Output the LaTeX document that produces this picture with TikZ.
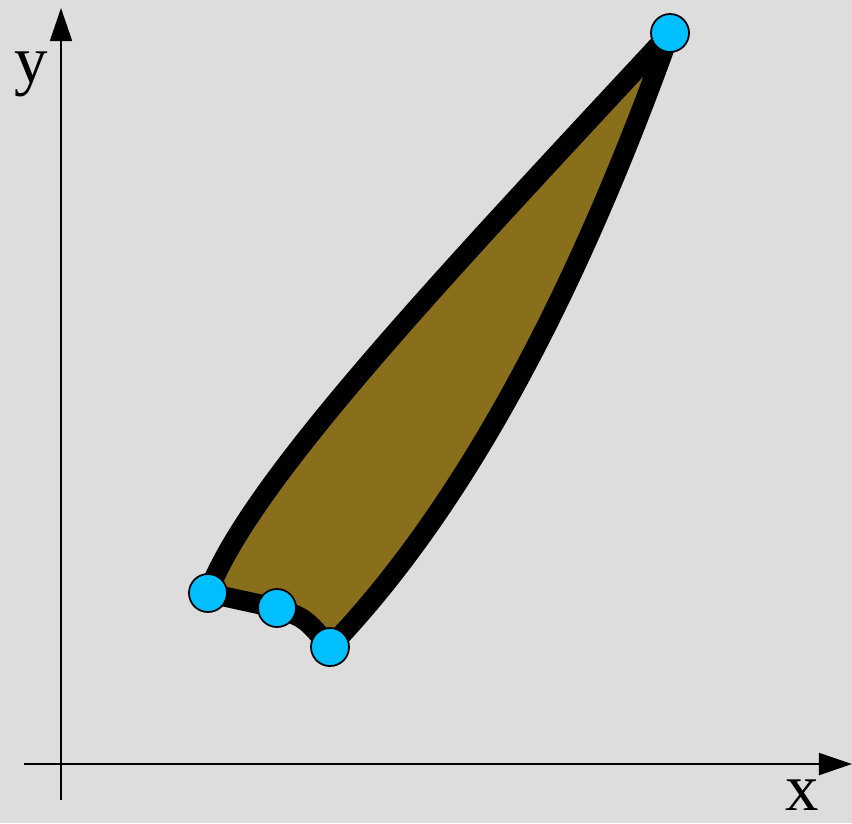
\documentclass[tikz,border=0pt]{standalone}
\usepackage{fontspec}
\setmainfont{Liberation Serif}
\usepackage{xcolor}
\usetikzlibrary{arrows.meta}

\definecolor{bgrey}{HTML}{DDDDDD}
\definecolor{wing}{HTML}{896F1C}
\definecolor{handle}{HTML}{00BFFF}

\begin{document}
\begin{tikzpicture}[x=0.01cm, y=-0.01cm, >={Triangle[length=0.33cm,width=0.22cm]}]
  % Define styles
  \tikzstyle{axis}=[->, line width=0.5pt]
  \tikzstyle{lbl}=[inner sep=0pt, font=\fontsize{19}{22}\selectfont]
  \tikzstyle{point}=[circle, draw, line width=0.5pt, fill=handle, minimum size=0.38cm, inner sep=0pt]

  % Background
  \fill[bgrey] (0,0) rectangle (852,823);
  \useasboundingbox (0,0) rectangle (852,823);

  % Axes
  \coordinate (xs) at (24,764);
  \coordinate (xe) at (852,764);
  \coordinate (ys) at (61,800);
  \coordinate (ye) at (61,8);
  \draw[axis] (xs) -- (xe);
  \draw[axis] (ys) -- (ye);
  \node[lbl] (xl) at (802,795) {x};
  \node[lbl] (yl) at (31,74) {y};

  % Nodes
  \coordinate (lead) at (208,593);
  \coordinate (mid)  at (277,608);
  \coordinate (tail) at (330,647);
  \coordinate (tip)  at (670,33);

  % Outline
  \draw[line width=0.2cm, fill=wing, miter limit=2]
    (lead) .. controls (250,480) and (450,270) .. (tip)
    .. controls (610,200) and (500,470) .. (tail)
    .. controls (305,618) .. (mid)
    .. controls (240,600) .. (lead) -- cycle;

  % Handles
  \node[point] (p1) at (lead) {};
  \node[point] (p2) at (mid)  {};
  \node[point] (p3) at (tail) {};
  \node[point] (p4) at (tip)  {};
\end{tikzpicture}
\end{document}
